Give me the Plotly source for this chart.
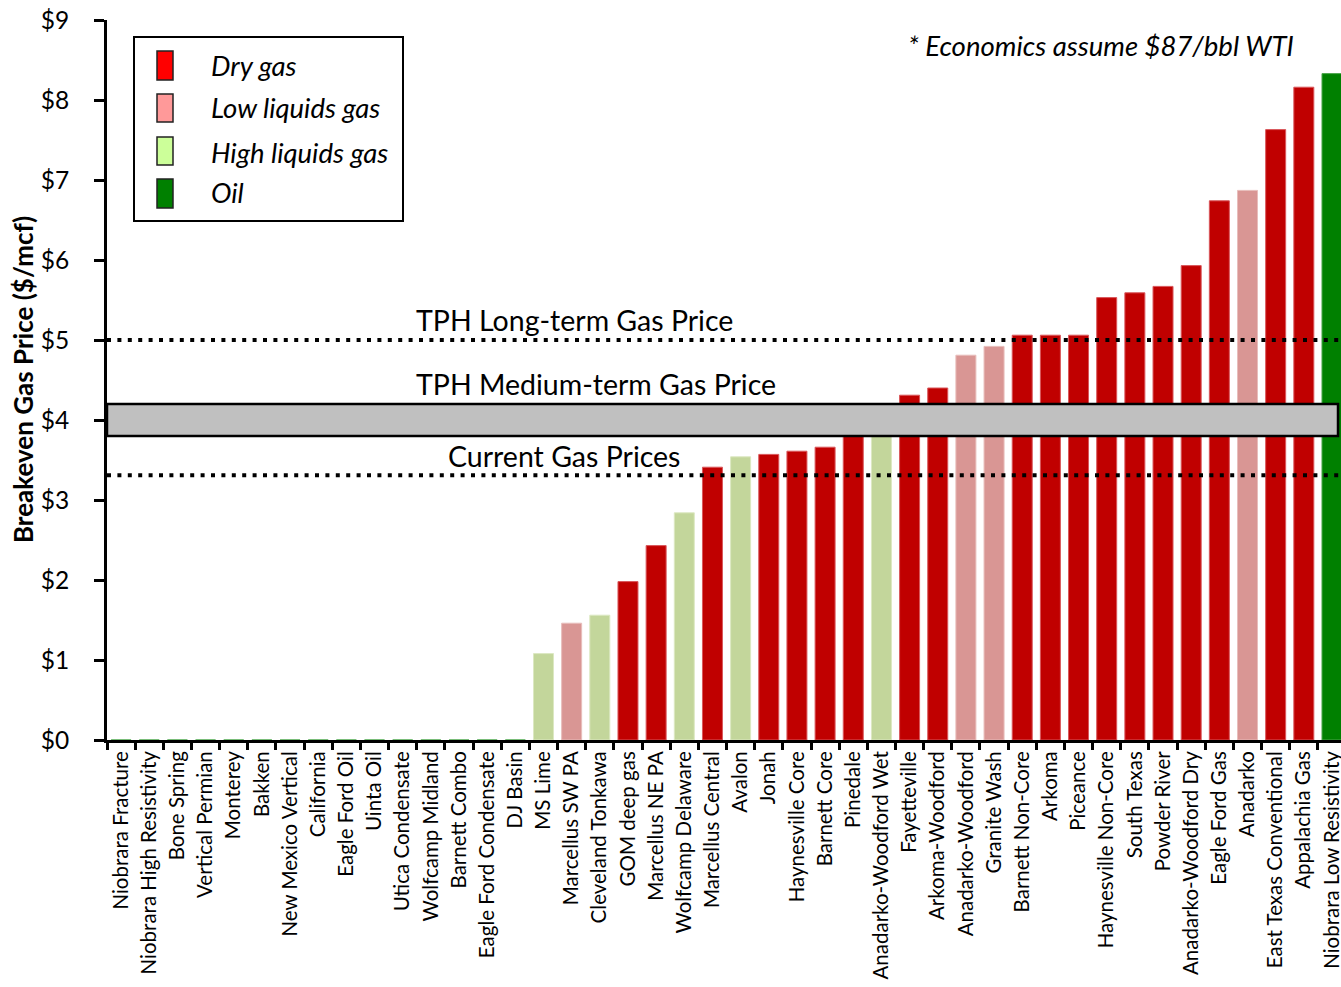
import plotly.graph_objects as go

# Breakeven gas price by play ($/mcf)
plays = [
    "Niobrara Fracture", "Niobrara High Resistivity", "Bone Spring", "Vertical Permian",
    "Monterey", "Bakken", "New Mexico Vertical", "California", "Eagle Ford Oil", "Uinta Oil",
    "Utica Condensate", "Wolfcamp Midland", "Barnett Combo", "Eagle Ford Condensate", "DJ Basin",
    "MS Lime", "Marcellus SW PA", "Cleveland Tonkawa", "GOM deep gas", "Marcellus NE PA",
    "Wolfcamp Delaware", "Marcellus Central", "Avalon", "Jonah", "Haynesville Core",
    "Barnett Core", "Pinedale", "Anadarko-Woodford Wet", "Fayetteville", "Arkoma-Woodford",
    "Anadarko-Woodford", "Granite Wash", "Barnett Non-Core", "Arkoma", "Piceance",
    "Haynesville Non-Core", "South Texas", "Powder River", "Anadarko-Woodford Dry",
    "Eagle Ford Gas", "Anadarko", "East Texas Conventional", "Appalachia Gas",
    "Niobrara Low Resistivity",
]
breakeven = [
    0, 0, 0, 0, 0, 0, 0, 0, 0, 0, 0, 0, 0, 0, 0,
    1.08, 1.46, 1.56, 1.98, 2.43, 2.84, 3.41, 3.54, 3.57, 3.61,
    3.66, 3.95, 4.05, 4.31, 4.40, 4.81, 4.92, 5.06, 5.06, 5.06,
    5.53, 5.59, 5.67, 5.93, 6.74, 6.87, 7.63, 8.16, 8.33,
]
play_type = (
    ["Oil"] * 15
    + ["High liquids gas", "Low liquids gas", "High liquids gas", "Dry gas", "Dry gas",
       "High liquids gas", "Dry gas", "High liquids gas", "Dry gas", "Dry gas",
       "Dry gas", "Dry gas", "High liquids gas", "Dry gas", "Dry gas",
       "Low liquids gas", "Low liquids gas", "Dry gas", "Dry gas", "Dry gas",
       "Dry gas", "Dry gas", "Dry gas", "Dry gas", "Dry gas",
       "Low liquids gas", "Dry gas", "Dry gas", "Oil"]
)

# Reference price levels ($/mcf)
long_term_price = 5.0
medium_term_band = [3.8, 4.2]
current_price = 3.31

legend_types = ["Dry gas", "Low liquids gas", "High liquids gas", "Oil"]
bar_colors = {"Dry gas": "#C00000", "Low liquids gas": "#D99694",
              "High liquids gas": "#C3D69B", "Oil": "#008000"}
bar_edges = {"Dry gas": "#D9575B", "Low liquids gas": "#E8BDBB",
             "High liquids gas": "#DCE8C2", "Oil": "#4DA64D"}
swatch_colors = {"Dry gas": "#FF0000", "Low liquids gas": "#FF9999",
                 "High liquids gas": "#CCFF99", "Oil": "#008000"}

FONT = "Lato, 'Open Sans', sans-serif"
W, H = 1341, 987
L, R, T, B = 107, 1341, 20, 740


def px(xp):
    return (xp - L) / (R - L)


def py(yp):
    return (B - yp) / (B - T)


fig = go.Figure(go.Bar(
    x=plays,
    y=breakeven,
    marker=dict(color=[bar_colors[t] for t in play_type],
                line=dict(color=[bar_edges[t] for t in play_type], width=1)),
    showlegend=False,
))

shapes = []
# dotted price lines
for lvl in (long_term_price, current_price):
    shapes.append(dict(type="line", xref="x domain", yref="y", x0=0, x1=1,
                       y0=lvl, y1=lvl, layer="above",
                       line=dict(color="black", width=4, dash="4px,6.4px")))
# medium-term band
shapes.append(dict(type="rect", xref="x domain", yref="y", x0=0.0, x1=px(1338),
                   y0=medium_term_band[0], y1=medium_term_band[1], layer="above",
                   fillcolor="#C0C0C0", line=dict(color="black", width=2.5)))
# legend box
shapes.append(dict(type="rect", xref="paper", yref="paper", x0=px(134), x1=px(403),
                   y0=py(221), y1=py(37), layer="above", fillcolor="white",
                   line=dict(color="black", width=2)))

annotations = []
legend_rows = [(51, 80, 66), (94, 122, 108), (137, 165, 153), (179, 208, 193)]
for t, (top, bot, mid) in zip(legend_types, legend_rows):
    shapes.append(dict(type="rect", xref="paper", yref="paper", x0=px(157), x1=px(173),
                       y0=py(bot), y1=py(top), layer="above",
                       fillcolor=swatch_colors[t], line=dict(color="#222222", width=1.5)))
    annotations.append(dict(text=f"<i>{t}</i>", xref="paper", yref="paper",
                            x=px(209), y=py(mid - 1), xanchor="left", yanchor="middle",
                            showarrow=False, font=dict(family=FONT, size=27.5, color="black")))

for text, xl, yc in (("TPH Long-term Gas Price", 414, 320),
                     ("TPH Medium-term Gas Price", 414, 384),
                     ("Current Gas Prices", 446, 456)):
    annotations.append(dict(text=text, xref="paper", yref="paper", x=px(xl), y=py(yc),
                            xanchor="left", yanchor="middle", showarrow=False,
                            font=dict(family=FONT, size=28.5, color="black")))

annotations.append(dict(text="<i>* Economics assume $87/bbl WTI</i>", xref="paper",
                        yref="paper", x=px(1296), y=py(46), xanchor="right",
                        yanchor="middle", showarrow=False,
                        font=dict(family=FONT, size=27.5, color="black")))
annotations.append(dict(text="<b>Breakeven Gas Price ($/mcf)</b>", xref="paper",
                        yref="paper", x=px(23), y=py(380), textangle=-90,
                        xanchor="center", yanchor="middle", showarrow=False,
                        font=dict(family=FONT, size=26, color="black")))

fig.update_layout(
    width=W, height=H,
    margin=dict(l=L, r=W - R, t=T, b=H - B, pad=0, autoexpand=False),
    paper_bgcolor="white", plot_bgcolor="white",
    bargap=0.29,
    shapes=shapes,
    annotations=annotations,
    font=dict(family=FONT, color="black"),
)
fig.update_xaxes(
    type="category", range=[-0.5, 43.32], automargin=False,
    showline=True, linecolor="black", linewidth=3,
    ticks="outside", tickson="boundaries", ticklen=7, tickwidth=2.5, tickcolor="black",
    tickangle=-90, tickfont=dict(family=FONT, size=20.5, color="black"),
    showgrid=False, zeroline=False,
)
fig.update_yaxes(
    range=[0, 9], dtick=1, tickprefix="$", automargin=False,
    showline=True, linecolor="black", linewidth=3,
    ticks="outside", ticklen=10, tickwidth=2.5, tickcolor="black",
    tickfont=dict(family=FONT, size=24.5, color="black"), ticklabelstandoff=20,
    showgrid=False, zeroline=False,
)

fig.write_html("out.html")
